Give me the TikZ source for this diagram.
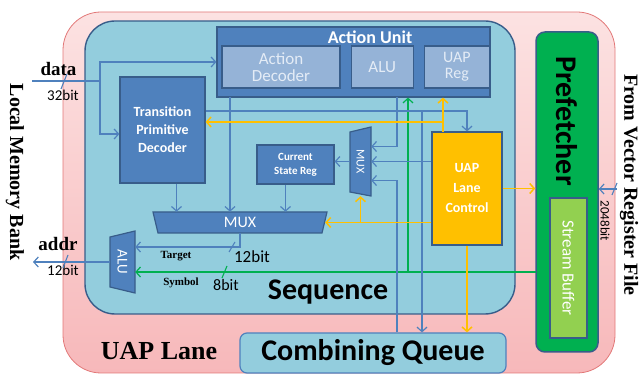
\documentclass[tikz,border=0pt]{standalone}
\usepackage{fontspec}
\setmainfont{Carlito}
\newfontfamily\tnr{Liberation Serif}
\usetikzlibrary{shapes,arrows,arrows.meta,positioning}

\definecolor{lanepink}{RGB}{247,184,186}
\definecolor{lanetop}{RGB}{252,226,226}
\definecolor{laneedge}{RGB}{226,120,120}
\definecolor{seqblue}{RGB}{147,205,221}
\definecolor{boxblue}{RGB}{79,129,189}
\definecolor{boxedge}{RGB}{56,93,138}
\definecolor{subblue}{RGB}{149,179,215}
\definecolor{subtext}{RGB}{228,236,246}
\definecolor{uapyellow}{RGB}{255,192,0}
\definecolor{pfgreen}{RGB}{0,176,80}
\definecolor{sbgreen}{RGB}{146,208,80}

\tikzstyle{lane}     = [draw=laneedge, top color=lanetop, bottom color=lanepink, line width=0.8pt]
\tikzstyle{seq}      = [draw=boxedge, fill=seqblue, line width=1.4pt]
\tikzstyle{block}    = [draw=boxedge, fill=boxblue, line width=1.2pt, text=white, align=center, inner sep=0pt]
\tikzstyle{sub}      = [draw=boxedge, fill=subblue, line width=1.2pt, text=subtext, align=center, inner sep=0pt, minimum height=42pt, font=\fontsize{17}{19}\selectfont]
\tikzstyle{ghost}    = [inner sep=0pt, text=white, align=center]
\tikzstyle{muxshape} = [draw=boxedge, fill=boxblue, line width=1.2pt]
\tikzstyle{line}     = [draw, boxblue, line width=1.2pt, -{Straight Barb[length=4.5pt, width=10pt]}]
\tikzstyle{yline}    = [draw, uapyellow, line width=1.5pt, -{Straight Barb[length=4.5pt, width=10pt]}]
\tikzstyle{gline}    = [draw, pfgreen, line width=1.2pt, -{Straight Barb[length=4.5pt, width=10pt]}]
\tikzstyle{bus}      = [draw, line width=1.1pt]
\tikzstyle{tag}      = [inner sep=0pt, font=\tnr\bfseries\fontsize{19}{20}\selectfont]
\tikzstyle{bits}     = [inner sep=0pt, font=\fontsize{15}{16}\selectfont]
\tikzstyle{side}     = [inner sep=0pt, font=\tnr\bfseries\fontsize{20}{22}\selectfont]

\begin{document}
\begin{tikzpicture}[x=1pt, y=-1pt]
	\path [use as bounding box] (0,0) rectangle (641,374);
	% Node Setting %
	\node [lane, minimum width=552pt, minimum height=361pt, rounded corners=38pt] (lane) at (339,192.5) {};
	\node [seq, minimum width=430pt, minimum height=293pt, rounded corners=30pt] (seq) at (300,167.5) {};
	\node [block, minimum width=273pt, minimum height=70pt] (au) at (353.5,62) {};
	\node [ghost, font=\bfseries\fontsize{18}{20}\selectfont] (autitle) at (370,37) {Action Unit};
	\node [sub, minimum width=118pt] (ad) at (281,67) {Action\\[-2pt]Decoder};
	\node [sub, minimum width=62pt, right=10pt of ad] (alu) {ALU};
	\node [sub, minimum width=65pt, right=10pt of alu, font=\fontsize{16}{18}\selectfont] (reg) {UAP\\[-2pt]Reg};
	\node [block, minimum width=85pt, minimum height=106pt, font=\bfseries\fontsize{14}{18}\selectfont] (tpd) at (162.5,130) {Transition\\Primitive\\Decoder};
	\node [block, minimum width=77pt, minimum height=39pt, font=\bfseries\fontsize{11}{14}\selectfont] (csr) at (295.5,164.5) {Current\\State Reg};
	\path [muxshape] (350,132) -- (371,127) -- (371,196) -- (350,192) -- cycle;
	\node [ghost, minimum width=21pt, minimum height=69pt, font=\fontsize{12}{13}\selectfont] (smux) at (360.5,161.5) {\rotatebox{-90}{MUX}};
	\path [muxshape] (153,212) -- (327,212) -- (322,233) -- (158,233) -- cycle;
	\node [ghost, minimum width=170pt, minimum height=21pt, font=\fontsize{16}{18}\selectfont] (mux) at (240,222.5) {MUX};
	\path [muxshape] (110,237) -- (135,231) -- (135,293) -- (110,287) -- cycle;
	\node [ghost, minimum width=25pt, minimum height=62pt, font=\fontsize{15}{17}\selectfont] (salu) at (122.5,262) {\rotatebox{-90}{ALU}};
	\node [block, fill=uapyellow, minimum width=70pt, minimum height=113pt, font=\bfseries\fontsize{14}{20}\selectfont] (lc) at (467,188.5) {UAP\\Lane\\Control};
	\node [block, fill=pfgreen, line width=1.5pt, minimum width=62pt, minimum height=320pt, rounded corners=9pt] (pf) at (567,192) {};
	\node [ghost, text=black, font=\bfseries\fontsize{30}{32}\selectfont] (pftext) at (567,121) {\rotatebox{-90}{Prefetcher}};
	\node [block, fill=sbgreen, minimum width=37pt, minimum height=140pt, font=\fontsize{17}{19}\selectfont] (sb) at (568.5,268) {\rotatebox{-90}{Stream Buffer}};
	\node [block, fill=seqblue, draw=boxblue, minimum width=266pt, minimum height=40pt, rounded corners=7pt, text=black, font=\bfseries\fontsize{30}{31}\selectfont] (cq) at (373,353) {Combining Queue};
	\node [ghost, text=black, font=\bfseries\fontsize{30}{31}\selectfont] (seqtext) at (328,292) {Sequence};
	\node [ghost, text=black, font=\tnr\bfseries\fontsize{26}{28}\selectfont] (lanetext) at (159,351) {UAP Lane};
	\node [side] (lmb) at (15,172) {\rotatebox{-90}{Local Memory Bank}};
	\node [side] (vrf) at (629,185) {\rotatebox{-90}{From Vector Register File}};
	% Wire labels %
	\node [tag] (data) at (58.5,69) {data};
	\node [bits] (dbits) at (63,95) {32bit};
	\node [tag] (addr) at (58,244) {addr};
	\node [bits] (abits) at (63,270) {12bit};
	\node [tag, font=\tnr\bfseries\fontsize{11}{12}\selectfont] (target) at (176,256) {Target};
	\node [bits, font=\fontsize{17}{18}\selectfont] (tbits) at (252,257) {12bit};
	\node [tag, font=\tnr\bfseries\fontsize{11}{12}\selectfont] (symbol) at (181,283) {Symbol};
	\node [bits, font=\fontsize{16}{17}\selectfont] (sbits) at (226,285) {8bit};
	\node [bits, font=\fontsize{13}{14}\selectfont] (vbits) at (605,221) {\rotatebox{-90}{2048bit}};
	% Wire ends %
	\coordinate (din) at (32,81);
	\coordinate (dsplit) at (100,81);
	\coordinate (aout) at (33,262);
	\coordinate (symb) at (536,272);
	\coordinate (gsplit) at (408,272);
	\coordinate (vin) at (617,189);
	\coordinate (adout) at (230,97);
	\coordinate (auout) at (397,97);
	\coordinate (tsplit) at (422,111);
	\coordinate (yup) at (443,132);
	\coordinate (ybend) at (443,122);
	\coordinate (tpdout) at ([xshift=14pt]tpd.south);
	\coordinate (csrout) at ([xshift=-10pt]csr.south);
	% Connection %
	\path [line] (din) -- (dsplit) |- (au.west);
	\path [line] (dsplit) |- ([yshift=-4pt]tpd.west);
	\path [line] (salu.west) -- (aout);
	\path [line] (mux.south) |- ([yshift=15pt]salu.east);
	\path [gline] (symb) -- ([yshift=-10pt]salu.east);
	\path [gline] (gsplit) -- (gsplit |- au.south);
	\path [line] (vin) -- (vin -| pf.east);
	\path [line] (tpdout) -- (tpdout |- mux.north);
	\path [line] (adout) -- (adout |- mux.north);
	\path [line] (csrout) -- (csrout |- mux.north);
	\path [line] (smux.west) -- (smux.west -| csr.east);
	\path [line] (auout) |- ([yshift=15pt]smux.east);
	\path [line] (lc.west |- smux.east) -- (smux.east);
	\path [line] (cq.north -| auout) |- ([yshift=-19pt]smux.east);
	\path [line] ([yshift=19pt]tpd.east) -| (lc.north);
	\path [line] (tsplit) -- (tsplit |- cq.north);
	\path [yline] (lc.east) -- (lc.east -| pf.west);
	\path [yline] (lc.west |- mux.east) -- (mux.east);
	\path [yline] (smux.south |- mux.east) -- (smux.south);
	\path [yline] (yup) -- (yup |- au.south);
	\path [yline] (ybend) -- (ybend -| tpd.east);
	\path [yline] (lc.south) -- (lc.south |- cq.north);
	% Bus marks %
	\path [bus, boxblue] (61,89) -- (67,74);
	\path [bus, boxblue] (63,268) -- (68,255);
	\path [bus, boxblue] (229,252) -- (235,242);
	\path [bus, pfgreen] (222,278) -- (227,266);
	\path [bus, boxblue] (612,195) -- (617,183);
\end{tikzpicture}
\end{document}
